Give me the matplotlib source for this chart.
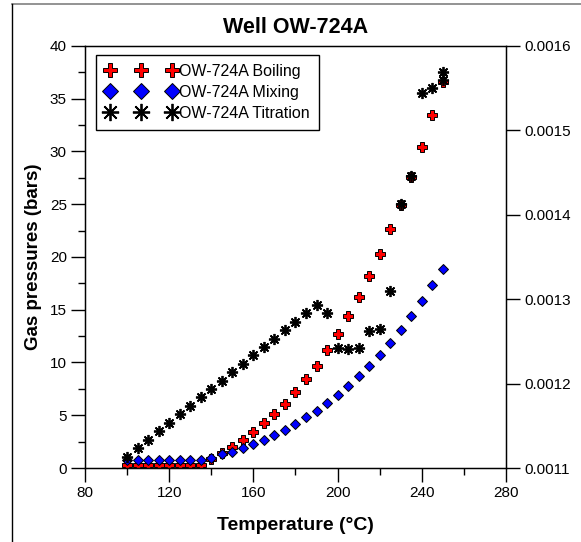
import matplotlib
matplotlib.use("Agg")
import matplotlib.pyplot as plt
from matplotlib.lines import Line2D
from matplotlib.ticker import MultipleLocator, FormatStrFormatter

plt.rcParams['font.family'] = ['Liberation Sans', 'DejaVu Sans']

# temperatures (deg C)
tempBoil = [100, 105, 110, 115, 120, 125, 130, 135, 140, 145, 150, 155, 160, 165, 170,
            175, 180, 185, 190, 195, 200, 205, 210, 215, 220, 225, 230, 235, 240, 245, 250]
tempMix = tempBoil
tempTitr = tempBoil + [250]

# gas pressures (bars)
boiling = [0.3, 0.3, 0.3, 0.3, 0.3, 0.3, 0.3, 0.3, 0.85, 1.4, 2.0, 2.65, 3.4, 4.25, 5.1,
           6.1, 7.2, 8.4, 9.7, 11.2, 12.7, 14.4, 16.2, 18.2, 20.3, 22.6, 24.9, 27.6, 30.45, 33.4, 36.6]
mixing = [0.75, 0.75, 0.75, 0.75, 0.75, 0.75, 0.75, 0.76, 0.98, 1.33, 1.55, 1.87, 2.27, 2.65, 3.13,
          3.6, 4.2, 4.8, 5.43, 6.16, 6.92, 7.77, 8.69, 9.67, 10.68, 11.85, 13.05, 14.41, 15.83, 17.32, 18.86]
titration = [1.0, 1.86, 2.65, 3.47, 4.26, 5.08, 5.86, 6.69, 7.47, 8.26, 9.05, 9.83, 10.66, 11.44, 12.23,
             13.08, 13.87, 14.66, 15.44, 14.66, 11.4, 11.3, 11.35, 12.98, 13.2, 16.8, 25.0, 27.7, 35.55, 36.0, 37.55,
             36.8]

labels = ["OW-724A Boiling", "OW-724A Mixing", "OW-724A Titration"]

fig = plt.figure(figsize=(5.81, 5.42), dpi=100)
ax = fig.add_axes([0.1463, 0.1365, 0.7246, 0.7790])

ax.plot(tempBoil, boiling, linestyle='none', marker='P', markersize=6.6,
        markerfacecolor='red', markeredgecolor='black', markeredgewidth=0.7, label=labels[0])
ax.plot(tempMix, mixing, linestyle='none', marker='D', markersize=5,
        markerfacecolor='blue', markeredgecolor='black', markeredgewidth=0.7, label=labels[1])
ax.plot(tempTitr, titration, linestyle='none', marker=(8, 2, 0), markersize=8,
        color='black', markeredgewidth=1.3, label=labels[2])

ax.set_xlim(80, 280)
ax.set_ylim(0, 40)
ax.xaxis.set_major_locator(MultipleLocator(40))
ax.xaxis.set_minor_locator(MultipleLocator(20))
ax.yaxis.set_major_locator(MultipleLocator(5))
ax.yaxis.set_minor_locator(MultipleLocator(2.5))
ax.tick_params(which='major', direction='out', length=10, width=1, labelsize=11, color='black')
ax.tick_params(which='minor', direction='out', length=5, width=1, color='black')
ax.tick_params(axis='x', pad=3)
ax.tick_params(axis='y', pad=3)
for sp in ax.spines.values():
    sp.set_linewidth(1)

ax.set_xlabel("Temperature (°C)", fontsize=14, fontweight='bold', labelpad=12)
ax.set_ylabel("Gas pressures (bars)", fontsize=13.5, fontweight='bold', labelpad=6)
ax.set_title("Well OW-724A", fontsize=15.5, fontweight='bold', pad=9)

# right axis
ax2 = ax.twinx()
ax2.set_ylim(0.0011, 0.0016)
ax2.yaxis.set_major_locator(MultipleLocator(0.0001))
ax2.yaxis.set_major_formatter(FormatStrFormatter('%.4f'))
ax2.tick_params(which='major', direction='out', length=10, width=1, labelsize=11, pad=3)

leg = ax.legend(loc='upper left', bbox_to_anchor=(0.027, 0.978), numpoints=3,
                handlelength=4.5, handletextpad=0.15, borderpad=0.55, labelspacing=0.38,
                markerscale=1.55, fontsize=11.5, frameon=True, fancybox=False,
                edgecolor='black', framealpha=1, borderaxespad=0)
leg.get_frame().set_linewidth(1)

# outer frame lines of the original page
fig.add_artist(Line2D([12/581, 1], [1-4/542, 1-4/542], color='gray', linewidth=1.2))
fig.add_artist(Line2D([12/581, 12/581], [0, 1-4/542], color='black', linewidth=1))

fig.savefig("out.png", dpi=100)
